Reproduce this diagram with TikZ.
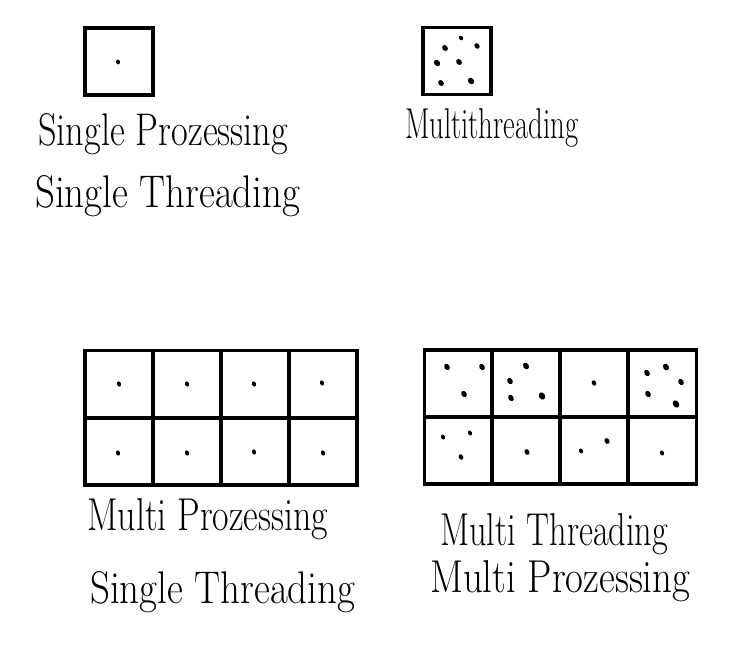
\documentclass[tikz,border=0pt]{standalone}
\usepackage{graphicx}
\begin{document}
\begin{tikzpicture}[x=1pt,y=-1pt,
  cell/.style={draw,line width=3.3pt,minimum width=68pt,minimum height=67pt,inner sep=0pt,outer sep=0pt},
  lbl/.style={anchor=base west,inner sep=0pt,font=\fontsize{30}{30}\selectfont}]
\useasboundingbox (0,0) rectangle (754,645);
% top-left single box
\node[cell] (sp) at (119,61.5) {};
\fill (118,62) ellipse [x radius=2, y radius=2.5, rotate=20];
% top-right multithreading box
\node[cell] (mt) at (457,61) {};
\foreach \p/\r in {(461,38)/2, (445,48)/2.6, (477,46)/2.4, (437,63)/2.8, (459,62)/2.6, (441,83)/2.6, (471,81)/2.8}
  \fill \p ellipse [x radius=\r, y radius=\r*1.25, rotate=40];
% bottom-left grid
\foreach \i/\x in {1/119,2/187,3/255,4/323}{
  \node[cell] (a\i) at (\x,384) {};
  \node[cell] (b\i) at (\x,451.5) {};
}
\foreach \p in {(119,384),(187,384),(254,384),(322,383),(118,453),(187,453),(254,452),(323,453)}
  \fill \p ellipse [x radius=2, y radius=2.7, rotate=20];
% bottom-right grid
\foreach \i/\x in {1/458.5,2/526,3/594,4/662.5}{
  \node[cell] (c\i) at (\x,383.5) {};
  \node[cell] (d\i) at (\x,450.5) {};
}
\foreach \p/\r in {(447,367)/2.6,(482,367)/2.6,(464,394)/2.6,
  (526,366)/2.8,(510,381)/2.6,(511,398)/2.6,(542,396)/3,
  (594,383)/2.2,
  (647,373)/2.6,(666,367)/2.8,(681,382)/2.6,(648,394)/2.6,(676,404)/3,
  (443,437)/2,(470,433)/2,(461,457)/2.2,
  (527,452)/2.4,
  (581,451)/2,(607,441)/2.4,
  (662,453)/2}
  \fill \p ellipse [x radius=\r, y radius=\r*1.3, rotate=30];
% labels
\node[lbl] (t1) at (38,145) {\resizebox{250pt}{32pt}{Single Prozessing}};
\node[lbl] (t2) at (35,207) {\resizebox{265pt}{32pt}{Single Threading}};
\node[lbl] (t3) at (405,138) {\resizebox{173pt}{30pt}{Multithreading}};
\node[lbl] (t4) at (87,530) {\resizebox{241pt}{32pt}{Multi Prozessing}};
\node[lbl] (t5) at (90,603) {\resizebox{265pt}{32pt}{Single Threading}};
\node[lbl] (t6) at (440,545) {\resizebox{228pt}{32pt}{Multi Threading}};
\node[lbl] (t7) at (430,592) {\resizebox{260pt}{32pt}{Multi Prozessing}};
\end{tikzpicture}
\end{document}
